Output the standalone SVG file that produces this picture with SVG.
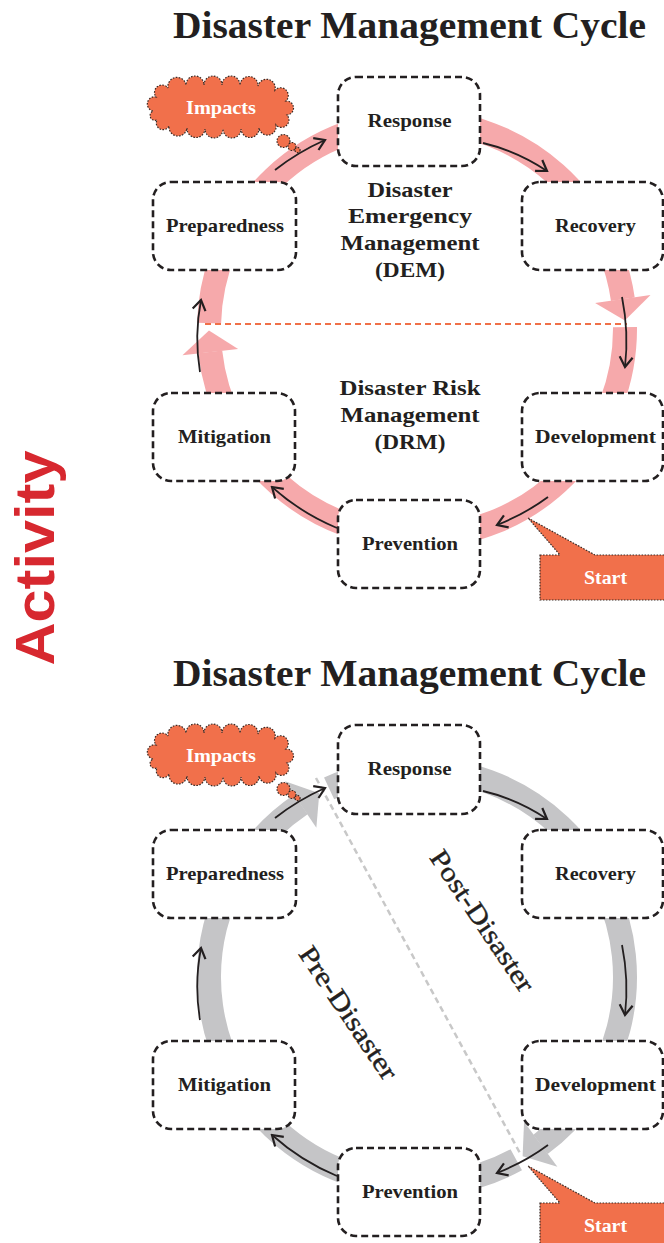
<svg xmlns="http://www.w3.org/2000/svg" width="664" height="1243" viewBox="0 0 664 1243">
  <defs>
    <style>
      .box rect { fill:#ffffff; stroke:#231f20; stroke-width:2.6; stroke-dasharray:7 4; }
      .lbl { font-family:"Liberation Serif", "DejaVu Serif", serif; font-weight:bold; font-size:19px; fill:#231f20; text-anchor:middle; }
      .title { font-family:"Liberation Serif", "DejaVu Serif", serif; font-weight:bold; font-size:37px; fill:#231f20; text-anchor:middle; }
      .zone { font-family:"Liberation Serif", "DejaVu Serif", serif; font-weight:bold; font-size:22px; fill:#231f20; text-anchor:middle; }
      .phase { font-family:"Liberation Serif", "DejaVu Serif", serif; font-size:27px; fill:#231f20; text-anchor:middle; stroke:#231f20; stroke-width:0.4; }
      .white { fill:#ffffff; }
      .ring { fill:none; stroke-width:24; }
      .pink { stroke:#f6a9ab; }
      .pinkfill { fill:#f6a9ab; }
      .grey { stroke:#c5c5c7; }
      .greyfill { fill:#c5c5c7; }
      .flow { fill:none; stroke:#231f20; stroke-width:1.8; marker-end:url(#chev); }
      .burst { fill:#f1704b; stroke:#3a2a25; stroke-width:1.2; stroke-dasharray:1.6 1.4; }
    </style>
    <marker id="chev" viewBox="-13 -9 15 18" refX="0" refY="0" markerWidth="15" markerHeight="18" markerUnits="userSpaceOnUse" orient="auto">
      <path d="M-10,-6.5 L0,0 L-10,6.5" fill="none" stroke="#231f20" stroke-width="2.2"/>
    </marker>
    <!-- thought cloud with its trail of bubbles -->
    <g id="cloud">
      <path class="burst" d="M153,111 A1,1 0 0 1 156,97 A1,1 0 0 1 168,88 A1,1 0 0 1 186,85 A1,1 0 0 1 204,85 A1,1 0 0 1 222,85 A1,1 0 0 1 240,85 A1,1 0 0 1 258,86 A1,1 0 0 1 275,90 A1,1 0 0 1 286,101 A1,1 0 0 1 287,115 A1,1 0 0 1 276,125 A1,1 0 0 1 259,128 A1,1 0 0 1 241,129 A1,1 0 0 1 223,129 A1,1 0 0 1 205,129 A1,1 0 0 1 187,128 A1,1 0 0 1 169,126 A1,1 0 0 1 157,120 A1,1 0 0 1 153,111 Z"/>
      <circle class="burst" cx="283.5" cy="141" r="6.5"/>
      <circle class="burst" cx="292" cy="146.5" r="4"/>
      <circle class="burst" cx="297.5" cy="150" r="2.6"/>
      <text class="lbl white" x="221" y="114" textLength="70" lengthAdjust="spacingAndGlyphs">Impacts</text>
    </g>
    <!-- speech callout marking the entry point of the cycle -->
    <g id="callout">
      <path class="burst" d="M540,555 L560,555 L528,518 L595,555 L668,555 L668,600 L540,600 Z"/>
      <text class="lbl white" x="605.5" y="584" textLength="43" lengthAdjust="spacingAndGlyphs">Start</text>
    </g>
    <!-- curved flow arrows running along the ring -->
    <g id="flows">
      <path class="flow" d="M275,170 Q298,152 325,140"/>
      <path class="flow" d="M483,143 Q517,151 547,171"/>
      <path class="flow" d="M622,297 Q629,332 625,367"/>
      <path class="flow" d="M548,497 Q525,514 497,525"/>
      <path class="flow" d="M337,528 Q301,513 272,487"/>
      <path class="flow" d="M200,372 Q194,336 201,300"/>
    </g>
  </defs>

  <!-- vertical side label -->
  <text x="0" y="0" transform="translate(54,558) rotate(-90)" font-family="'Liberation Sans', Arial, sans-serif" font-weight="bold" font-size="56" fill="#d7282f" text-anchor="middle" textLength="215" lengthAdjust="spacingAndGlyphs">Activity</text>

  <!-- ===== upper cycle: DEM / DRM ===== -->
  <text class="title" x="409.5" y="38" textLength="473" lengthAdjust="spacingAndGlyphs">Disaster Management Cycle</text>

  <g id="connectors-top">
    <!-- emergency half (upper arc) ending in a downward head on the right -->
    <circle class="ring pink" cx="0" cy="0" r="208" transform="translate(417,329) rotate(181.6)" stroke-dasharray="617.5 2000"/>
    <polygon class="pinkfill" points="180,0 236,0 206.9,21.7" transform="translate(417,329) rotate(351.7)"/>
    <!-- risk half (lower arc) ending in an upward head on the left -->
    <circle class="ring pink" cx="0" cy="0" r="208" transform="translate(417,329) rotate(-0.5)" stroke-dasharray="632 2000"/>
    <polygon class="pinkfill" points="180,0 236,0 206.9,21.7" transform="translate(417,329) rotate(173.6)"/>
    <!-- divider between the two halves -->
    <line x1="205" y1="324" x2="627" y2="324" stroke="#f07048" stroke-width="2" stroke-dasharray="6 4"/>
    <use href="#flows"/>
  </g>

  <g id="zone-dem">
    <text class="zone" x="410" y="197" textLength="85" lengthAdjust="spacingAndGlyphs">Disaster</text>
    <text class="zone" x="410" y="223" textLength="124" lengthAdjust="spacingAndGlyphs">Emergency</text>
    <text class="zone" x="410" y="250" textLength="139" lengthAdjust="spacingAndGlyphs">Management</text>
    <text class="zone" x="410" y="277" textLength="70" lengthAdjust="spacingAndGlyphs">(DEM)</text>
  </g>
  <g id="zone-drm">
    <text class="zone" x="410" y="395" textLength="141" lengthAdjust="spacingAndGlyphs">Disaster Risk</text>
    <text class="zone" x="410" y="422" textLength="139" lengthAdjust="spacingAndGlyphs">Management</text>
    <text class="zone" x="410" y="449" textLength="71" lengthAdjust="spacingAndGlyphs">(DRM)</text>
  </g>

  <g id="node-response" class="box"><rect x="338" y="77" width="142" height="89" rx="18"/><text class="lbl" x="409.5" y="127" textLength="84" lengthAdjust="spacingAndGlyphs">Response</text></g>
  <g id="node-recovery" class="box"><rect x="522" y="182" width="141" height="88" rx="18"/><text class="lbl" x="595.5" y="232" textLength="81" lengthAdjust="spacingAndGlyphs">Recovery</text></g>
  <g id="node-development" class="box"><rect x="522" y="393" width="141" height="88" rx="18"/><text class="lbl" x="595.5" y="443" textLength="121" lengthAdjust="spacingAndGlyphs">Development</text></g>
  <g id="node-prevention" class="box"><rect x="338" y="500" width="142" height="88" rx="18"/><text class="lbl" x="410" y="550" textLength="96" lengthAdjust="spacingAndGlyphs">Prevention</text></g>
  <g id="node-mitigation" class="box"><rect x="153" y="393" width="142" height="88" rx="18"/><text class="lbl" x="224.5" y="443" textLength="93" lengthAdjust="spacingAndGlyphs">Mitigation</text></g>
  <g id="node-preparedness" class="box"><rect x="153" y="182" width="143" height="88" rx="18"/><text class="lbl" x="225" y="232" textLength="118" lengthAdjust="spacingAndGlyphs">Preparedness</text></g>

  <g id="impacts-top"><use href="#cloud"/></g>
  <g id="start-top"><use href="#callout"/></g>

  <!-- ===== lower cycle: pre / post disaster ===== -->
  <text class="title" x="409.5" y="686" textLength="473" lengthAdjust="spacingAndGlyphs">Disaster Management Cycle</text>

  <g id="connectors-bottom">
    <!-- pre-disaster arc: prevention, mitigation, preparedness -->
    <circle class="ring grey" cx="0" cy="0" r="208" transform="translate(417,977) rotate(61.5)" stroke-dasharray="633.5 2000"/>
    <polygon class="greyfill" points="180,0 236,0 206.9,21.7" transform="translate(417,977) rotate(236)"/>
    <!-- post-disaster arc: response, recovery, development -->
    <circle class="ring grey" cx="0" cy="0" r="208" transform="translate(417,977) rotate(245)" stroke-dasharray="611.7 2000"/>
    <polygon class="greyfill" points="180,0 236,0 206.9,21.7" transform="translate(417,977) rotate(53.5)"/>
    <line x1="316" y1="778" x2="521" y2="1155" stroke="#c8c8c8" stroke-width="2.5" stroke-dasharray="6 4"/>
    <use href="#flows" transform="translate(0,648)"/>
  </g>

  <text class="phase" transform="translate(475,926) rotate(56)" textLength="165" lengthAdjust="spacingAndGlyphs">Post-Disaster</text>
  <text class="phase" transform="translate(341,1018) rotate(56)" textLength="155" lengthAdjust="spacingAndGlyphs">Pre-Disaster</text>

  <g id="node-response-2" class="box"><rect x="338" y="725" width="142" height="89" rx="18"/><text class="lbl" x="409.5" y="775" textLength="84" lengthAdjust="spacingAndGlyphs">Response</text></g>
  <g id="node-recovery-2" class="box"><rect x="522" y="830" width="141" height="88" rx="18"/><text class="lbl" x="595.5" y="880" textLength="81" lengthAdjust="spacingAndGlyphs">Recovery</text></g>
  <g id="node-development-2" class="box"><rect x="522" y="1041" width="141" height="88" rx="18"/><text class="lbl" x="595.5" y="1091" textLength="121" lengthAdjust="spacingAndGlyphs">Development</text></g>
  <g id="node-prevention-2" class="box"><rect x="338" y="1148" width="142" height="88" rx="18"/><text class="lbl" x="410" y="1198" textLength="96" lengthAdjust="spacingAndGlyphs">Prevention</text></g>
  <g id="node-mitigation-2" class="box"><rect x="153" y="1041" width="142" height="88" rx="18"/><text class="lbl" x="224.5" y="1091" textLength="93" lengthAdjust="spacingAndGlyphs">Mitigation</text></g>
  <g id="node-preparedness-2" class="box"><rect x="153" y="830" width="143" height="88" rx="18"/><text class="lbl" x="225" y="880" textLength="118" lengthAdjust="spacingAndGlyphs">Preparedness</text></g>

  <g id="impacts-bottom"><use href="#cloud" transform="translate(0,648)"/></g>
  <g id="start-bottom"><use href="#callout" transform="translate(0,648)"/></g>
</svg>
